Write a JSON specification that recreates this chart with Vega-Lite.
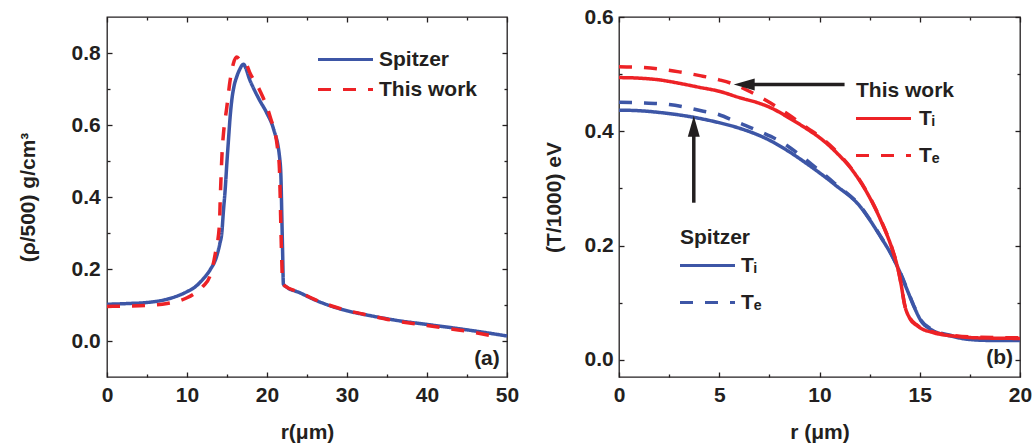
{
  "$schema": "https://vega.github.io/schema/vega-lite/v6.json",
  "padding": {"left": 16, "top": 5, "right": 0, "bottom": 0},
  "spacing": 22,
  "datasets": {
    "rho": [
      {"r": 0, "rho": 0.102, "model": "Spitzer"},
      {"r": 2.5, "rho": 0.104, "model": "Spitzer"},
      {"r": 5, "rho": 0.107, "model": "Spitzer"},
      {"r": 7.5, "rho": 0.116, "model": "Spitzer"},
      {"r": 10, "rho": 0.137, "model": "Spitzer"},
      {"r": 11, "rho": 0.150, "model": "Spitzer"},
      {"r": 12, "rho": 0.172, "model": "Spitzer"},
      {"r": 12.9, "rho": 0.198, "model": "Spitzer"},
      {"r": 13.7, "rho": 0.235, "model": "Spitzer"},
      {"r": 14.1, "rho": 0.27, "model": "Spitzer"},
      {"r": 14.35, "rho": 0.30, "model": "Spitzer"},
      {"r": 14.55, "rho": 0.36, "model": "Spitzer"},
      {"r": 14.77, "rho": 0.42, "model": "Spitzer"},
      {"r": 15.0, "rho": 0.50, "model": "Spitzer"},
      {"r": 15.18, "rho": 0.557, "model": "Spitzer"},
      {"r": 15.4, "rho": 0.625, "model": "Spitzer"},
      {"r": 15.6, "rho": 0.669, "model": "Spitzer"},
      {"r": 15.9, "rho": 0.71, "model": "Spitzer"},
      {"r": 16.2, "rho": 0.733, "model": "Spitzer"},
      {"r": 16.6, "rho": 0.755, "model": "Spitzer"},
      {"r": 17.05, "rho": 0.769, "model": "Spitzer"},
      {"r": 17.4, "rho": 0.755, "model": "Spitzer"},
      {"r": 17.8, "rho": 0.728, "model": "Spitzer"},
      {"r": 18.3, "rho": 0.703, "model": "Spitzer"},
      {"r": 19.0, "rho": 0.672, "model": "Spitzer"},
      {"r": 20.0, "rho": 0.632, "model": "Spitzer"},
      {"r": 20.8, "rho": 0.59, "model": "Spitzer"},
      {"r": 21.6, "rho": 0.505, "model": "Spitzer"},
      {"r": 21.75, "rho": 0.45, "model": "Spitzer"},
      {"r": 21.85, "rho": 0.35, "model": "Spitzer"},
      {"r": 21.95, "rho": 0.25, "model": "Spitzer"},
      {"r": 22.05, "rho": 0.158, "model": "Spitzer"},
      {"r": 22.5, "rho": 0.149, "model": "Spitzer"},
      {"r": 24, "rho": 0.135, "model": "Spitzer"},
      {"r": 26, "rho": 0.114, "model": "Spitzer"},
      {"r": 28, "rho": 0.097, "model": "Spitzer"},
      {"r": 30, "rho": 0.084, "model": "Spitzer"},
      {"r": 33, "rho": 0.070, "model": "Spitzer"},
      {"r": 36, "rho": 0.058, "model": "Spitzer"},
      {"r": 40, "rho": 0.046, "model": "Spitzer"},
      {"r": 45, "rho": 0.031, "model": "Spitzer"},
      {"r": 50, "rho": 0.014, "model": "Spitzer"},
      {"r": 0, "rho": 0.096, "model": "This work"},
      {"r": 2.5, "rho": 0.097, "model": "This work"},
      {"r": 5, "rho": 0.099, "model": "This work"},
      {"r": 7.5, "rho": 0.104, "model": "This work"},
      {"r": 10, "rho": 0.120, "model": "This work"},
      {"r": 11, "rho": 0.133, "model": "This work"},
      {"r": 12, "rho": 0.152, "model": "This work"},
      {"r": 12.9, "rho": 0.182, "model": "This work"},
      {"r": 13.52, "rho": 0.241, "model": "This work"},
      {"r": 14.06, "rho": 0.325, "model": "This work"},
      {"r": 14.15, "rho": 0.39, "model": "This work"},
      {"r": 14.27, "rho": 0.464, "model": "This work"},
      {"r": 14.4, "rho": 0.53, "model": "This work"},
      {"r": 14.56, "rho": 0.576, "model": "This work"},
      {"r": 14.98, "rho": 0.65, "model": "This work"},
      {"r": 15.39, "rho": 0.724, "model": "This work"},
      {"r": 15.8, "rho": 0.771, "model": "This work"},
      {"r": 16.2, "rho": 0.789, "model": "This work"},
      {"r": 16.7, "rho": 0.779, "model": "This work"},
      {"r": 17.26, "rho": 0.775, "model": "This work"},
      {"r": 17.9, "rho": 0.743, "model": "This work"},
      {"r": 19.1, "rho": 0.696, "model": "This work"},
      {"r": 20.4, "rho": 0.622, "model": "This work"},
      {"r": 21.3, "rho": 0.538, "model": "This work"},
      {"r": 21.55, "rho": 0.48, "model": "This work"},
      {"r": 21.65, "rho": 0.40, "model": "This work"},
      {"r": 21.75, "rho": 0.30, "model": "This work"},
      {"r": 21.85, "rho": 0.22, "model": "This work"},
      {"r": 21.95, "rho": 0.16, "model": "This work"},
      {"r": 22.3, "rho": 0.152, "model": "This work"},
      {"r": 24, "rho": 0.136, "model": "This work"},
      {"r": 26, "rho": 0.115, "model": "This work"},
      {"r": 28, "rho": 0.098, "model": "This work"},
      {"r": 30, "rho": 0.085, "model": "This work"},
      {"r": 33, "rho": 0.070, "model": "This work"},
      {"r": 36, "rho": 0.056, "model": "This work"},
      {"r": 40, "rho": 0.043, "model": "This work"},
      {"r": 45, "rho": 0.027, "model": "This work"},
      {"r": 48.5, "rho": 0.013, "model": "This work"}
    ],
    "temp": [
      {"r": 0, "T": 0.494, "model": "This work", "type": "Ti"},
      {"r": 1, "T": 0.493, "model": "This work", "type": "Ti"},
      {"r": 2, "T": 0.490, "model": "This work", "type": "Ti"},
      {"r": 3, "T": 0.484, "model": "This work", "type": "Ti"},
      {"r": 4, "T": 0.477, "model": "This work", "type": "Ti"},
      {"r": 5, "T": 0.470, "model": "This work", "type": "Ti"},
      {"r": 6, "T": 0.459, "model": "This work", "type": "Ti"},
      {"r": 7, "T": 0.449, "model": "This work", "type": "Ti"},
      {"r": 7.58, "T": 0.441, "model": "This work", "type": "Ti"},
      {"r": 8.5, "T": 0.423, "model": "This work", "type": "Ti"},
      {"r": 9.42, "T": 0.403, "model": "This work", "type": "Ti"},
      {"r": 10, "T": 0.389, "model": "This work", "type": "Ti"},
      {"r": 10.75, "T": 0.366, "model": "This work", "type": "Ti"},
      {"r": 11.74, "T": 0.327, "model": "This work", "type": "Ti"},
      {"r": 12.41, "T": 0.290, "model": "This work", "type": "Ti"},
      {"r": 13.07, "T": 0.243, "model": "This work", "type": "Ti"},
      {"r": 13.66, "T": 0.190, "model": "This work", "type": "Ti"},
      {"r": 13.9, "T": 0.161, "model": "This work", "type": "Ti"},
      {"r": 14.07, "T": 0.132, "model": "This work", "type": "Ti"},
      {"r": 14.24, "T": 0.097, "model": "This work", "type": "Ti"},
      {"r": 14.49, "T": 0.0735, "model": "This work", "type": "Ti"},
      {"r": 14.9, "T": 0.059, "model": "This work", "type": "Ti"},
      {"r": 15.74, "T": 0.047, "model": "This work", "type": "Ti"},
      {"r": 16.74, "T": 0.0415, "model": "This work", "type": "Ti"},
      {"r": 17.9, "T": 0.0385, "model": "This work", "type": "Ti"},
      {"r": 20, "T": 0.0375, "model": "This work", "type": "Ti"},
      {"r": 0, "T": 0.513, "model": "This work", "type": "Te"},
      {"r": 1, "T": 0.512, "model": "This work", "type": "Te"},
      {"r": 2, "T": 0.509, "model": "This work", "type": "Te"},
      {"r": 3, "T": 0.504, "model": "This work", "type": "Te"},
      {"r": 4.1, "T": 0.497, "model": "This work", "type": "Te"},
      {"r": 5, "T": 0.490, "model": "This work", "type": "Te"},
      {"r": 5.76, "T": 0.482, "model": "This work", "type": "Te"},
      {"r": 6.5, "T": 0.470, "model": "This work", "type": "Te"},
      {"r": 7.58, "T": 0.449, "model": "This work", "type": "Te"},
      {"r": 8.5, "T": 0.428, "model": "This work", "type": "Te"},
      {"r": 9.42, "T": 0.405, "model": "This work", "type": "Te"},
      {"r": 10, "T": 0.391, "model": "This work", "type": "Te"},
      {"r": 10.75, "T": 0.368, "model": "This work", "type": "Te"},
      {"r": 11.74, "T": 0.328, "model": "This work", "type": "Te"},
      {"r": 12.41, "T": 0.291, "model": "This work", "type": "Te"},
      {"r": 13.07, "T": 0.244, "model": "This work", "type": "Te"},
      {"r": 13.66, "T": 0.191, "model": "This work", "type": "Te"},
      {"r": 13.9, "T": 0.162, "model": "This work", "type": "Te"},
      {"r": 14.07, "T": 0.133, "model": "This work", "type": "Te"},
      {"r": 14.24, "T": 0.098, "model": "This work", "type": "Te"},
      {"r": 14.49, "T": 0.0745, "model": "This work", "type": "Te"},
      {"r": 14.9, "T": 0.060, "model": "This work", "type": "Te"},
      {"r": 15.74, "T": 0.048, "model": "This work", "type": "Te"},
      {"r": 16.74, "T": 0.0425, "model": "This work", "type": "Te"},
      {"r": 17.9, "T": 0.0395, "model": "This work", "type": "Te"},
      {"r": 20, "T": 0.0385, "model": "This work", "type": "Te"},
      {"r": 0, "T": 0.437, "model": "Spitzer", "type": "Ti"},
      {"r": 1, "T": 0.436, "model": "Spitzer", "type": "Ti"},
      {"r": 2, "T": 0.433, "model": "Spitzer", "type": "Ti"},
      {"r": 3.8, "T": 0.424, "model": "Spitzer", "type": "Ti"},
      {"r": 5, "T": 0.415, "model": "Spitzer", "type": "Ti"},
      {"r": 5.76, "T": 0.408, "model": "Spitzer", "type": "Ti"},
      {"r": 7.58, "T": 0.383, "model": "Spitzer", "type": "Ti"},
      {"r": 8.5, "T": 0.364, "model": "Spitzer", "type": "Ti"},
      {"r": 9.42, "T": 0.342, "model": "Spitzer", "type": "Ti"},
      {"r": 10.75, "T": 0.307, "model": "Spitzer", "type": "Ti"},
      {"r": 12.08, "T": 0.266, "model": "Spitzer", "type": "Ti"},
      {"r": 12.41, "T": 0.250, "model": "Spitzer", "type": "Ti"},
      {"r": 13.07, "T": 0.214, "model": "Spitzer", "type": "Ti"},
      {"r": 13.57, "T": 0.185, "model": "Spitzer", "type": "Ti"},
      {"r": 13.99, "T": 0.155, "model": "Spitzer", "type": "Ti"},
      {"r": 14.4, "T": 0.120, "model": "Spitzer", "type": "Ti"},
      {"r": 14.74, "T": 0.091, "model": "Spitzer", "type": "Ti"},
      {"r": 15.07, "T": 0.068, "model": "Spitzer", "type": "Ti"},
      {"r": 15.57, "T": 0.053, "model": "Spitzer", "type": "Ti"},
      {"r": 16.57, "T": 0.0415, "model": "Spitzer", "type": "Ti"},
      {"r": 17.4, "T": 0.036, "model": "Spitzer", "type": "Ti"},
      {"r": 18.5, "T": 0.034, "model": "Spitzer", "type": "Ti"},
      {"r": 20, "T": 0.034, "model": "Spitzer", "type": "Ti"},
      {"r": 0, "T": 0.451, "model": "Spitzer", "type": "Te"},
      {"r": 1, "T": 0.450, "model": "Spitzer", "type": "Te"},
      {"r": 2.5, "T": 0.447, "model": "Spitzer", "type": "Te"},
      {"r": 4.1, "T": 0.436, "model": "Spitzer", "type": "Te"},
      {"r": 5, "T": 0.429, "model": "Spitzer", "type": "Te"},
      {"r": 5.76, "T": 0.418, "model": "Spitzer", "type": "Te"},
      {"r": 7, "T": 0.400, "model": "Spitzer", "type": "Te"},
      {"r": 8.25, "T": 0.378, "model": "Spitzer", "type": "Te"},
      {"r": 9, "T": 0.359, "model": "Spitzer", "type": "Te"},
      {"r": 9.58, "T": 0.343, "model": "Spitzer", "type": "Te"},
      {"r": 10.75, "T": 0.309, "model": "Spitzer", "type": "Te"},
      {"r": 12.08, "T": 0.267, "model": "Spitzer", "type": "Te"},
      {"r": 12.41, "T": 0.251, "model": "Spitzer", "type": "Te"},
      {"r": 13.07, "T": 0.215, "model": "Spitzer", "type": "Te"},
      {"r": 13.57, "T": 0.186, "model": "Spitzer", "type": "Te"},
      {"r": 13.99, "T": 0.156, "model": "Spitzer", "type": "Te"},
      {"r": 14.4, "T": 0.121, "model": "Spitzer", "type": "Te"},
      {"r": 14.74, "T": 0.092, "model": "Spitzer", "type": "Te"},
      {"r": 15.07, "T": 0.069, "model": "Spitzer", "type": "Te"},
      {"r": 15.57, "T": 0.054, "model": "Spitzer", "type": "Te"},
      {"r": 16.57, "T": 0.0425, "model": "Spitzer", "type": "Te"},
      {"r": 17.4, "T": 0.037, "model": "Spitzer", "type": "Te"},
      {"r": 18.5, "T": 0.035, "model": "Spitzer", "type": "Te"},
      {"r": 20, "T": 0.035, "model": "Spitzer", "type": "Te"}
    ],
    "arrows": [
      {"r1": 11.25, "T1": 0.482, "r2": 6.5, "T2": 0.482, "tipR": 5.72, "tipT": 0.482, "dir": "left"},
      {"r1": 3.73, "T1": 0.275, "r2": 3.73, "T2": 0.40, "tipR": 3.73, "tipT": 0.427, "dir": "up"}
    ]
  },
  "hconcat": [
    {
      "width": 400,
      "height": 360,
      "layer": [
        {
          "data": {"name": "rho"},
          "mark": {"type": "line", "strokeWidth": 3.5, "interpolate": "monotone"},
          "encoding": {
            "x": {"field": "r", "type": "quantitative", "scale": {"domain": [0, 50], "nice": false, "zero": false},
                  "axis": {"orient": "bottom", "values": [0, 10, 20, 30, 40, 50], "title": "r(μm)", "titlePadding": 16, "labelPadding": 12.5}},
            "y": {"field": "rho", "type": "quantitative", "scale": {"domain": [-0.1, 0.9], "nice": false, "zero": false},
                  "axis": {"orient": "left", "values": [0, 0.2, 0.4, 0.6, 0.8], "format": ".1f", "title": "(ρ/500) g/cm³", "titlePadding": 33, "labelPadding": 11.7}},
            "color": {"field": "model", "type": "nominal", "scale": {"domain": ["Spitzer", "This work"], "range": ["#3d56a6", "#ed2226"]},
                      "legend": {"orient": "none", "legendX": 211, "legendY": 32, "title": null, "rowPadding": 8, "labelOffset": 23}},
            "strokeDash": {"field": "model", "type": "nominal", "scale": {"domain": ["Spitzer", "This work"], "range": [[1, 0], [13, 12]]},
                      "legend": {"orient": "none", "legendX": 211, "legendY": 32, "title": null, "rowPadding": 8, "labelOffset": 23}}
          }
        },
        {
          "data": {"values": [{}]},
          "mark": {"type": "text", "align": "right", "baseline": "middle", "fontSize": 21, "fontWeight": "bold", "font": "Liberation Sans", "color": "#231f20"},
          "encoding": {
            "x": {"datum": 49.1, "type": "quantitative", "axis": null},
            "y": {"datum": -0.05, "type": "quantitative", "axis": null},
            "text": {"value": "(a)"}
          }
        },
        {
          "data": {"name": "rho"},
          "mark": {"type": "point", "opacity": 0},
          "encoding": {
            "x": {"field": "r", "type": "quantitative", "axis": {"orient": "top", "values": [0, 10, 20, 30, 40, 50], "labels": false, "title": null}},
            "y": {"field": "rho", "type": "quantitative", "axis": {"orient": "right", "values": [0, 0.2, 0.4, 0.6, 0.8], "labels": false, "title": null}}
          }
        },
        {
          "data": {"name": "rho"},
          "mark": {"type": "point", "opacity": 0},
          "encoding": {
            "x": {"field": "r", "type": "quantitative", "axis": {"orient": "bottom", "values": [5, 15, 25, 35, 45], "labels": false, "title": null, "tickSize": -3}},
            "y": {"field": "rho", "type": "quantitative", "axis": {"orient": "left", "values": [0.1, 0.3, 0.5, 0.7], "labels": false, "title": null, "tickSize": -3}}
          }
        },
        {
          "data": {"name": "rho"},
          "mark": {"type": "point", "opacity": 0},
          "encoding": {
            "x": {"field": "r", "type": "quantitative", "axis": {"orient": "top", "values": [5, 15, 25, 35, 45], "labels": false, "title": null, "tickSize": -3}},
            "y": {"field": "rho", "type": "quantitative", "axis": {"orient": "right", "values": [0.1, 0.3, 0.5, 0.7], "labels": false, "title": null, "tickSize": -3}}
          }
        }
      ],
      "resolve": {"axis": {"x": "independent", "y": "independent"}}
    },
    {
      "width": 401,
      "height": 360,
      "layer": [
        {
          "data": {"name": "temp"},
          "transform": [{"filter": "datum.model == 'Spitzer'"}],
          "mark": {"type": "line", "strokeWidth": 3.5, "color": "#3d56a6", "interpolate": "monotone"},
          "encoding": {
            "x": {"field": "r", "type": "quantitative", "scale": {"domain": [0, 20], "nice": false, "zero": false},
                  "axis": {"orient": "bottom", "values": [0, 5, 10, 15, 20], "title": "r (μm)", "titlePadding": 16, "labelPadding": 12.5}},
            "y": {"field": "T", "type": "quantitative", "scale": {"domain": [-0.03, 0.6], "nice": false, "zero": false},
                  "axis": {"orient": "left", "values": [0, 0.2, 0.4, 0.6], "format": ".1f", "title": "(T/1000) eV", "titlePadding": 20, "labelPadding": 10.7}},
            "strokeDash": {"field": "type", "type": "nominal", "scale": {"domain": ["Ti", "Te"], "range": [[1, 0], [13, 12]]},
                      "legend": {"orient": "none", "legendX": 61, "legendY": 210, "title": "Spitzer", "symbolStrokeColor": "#3d56a6", "rowPadding": 15, "labelOffset": 23, "labelExpr": "datum.label == 'Ti' ? 'Tᵢ' : 'Tₑ'"}}
          }
        },
        {
          "data": {"name": "temp"},
          "transform": [{"filter": "datum.model == 'This work'"}],
          "mark": {"type": "line", "strokeWidth": 3.5, "color": "#ed2226", "interpolate": "monotone"},
          "encoding": {
            "x": {"field": "r", "type": "quantitative", "axis": null},
            "y": {"field": "T", "type": "quantitative", "axis": null},
            "strokeDash": {"field": "type", "type": "nominal", "scale": {"domain": ["Ti", "Te"], "range": [[1, 0], [13, 12]]},
                      "legend": {"orient": "none", "legendX": 237, "legendY": 63, "title": "This work", "symbolStrokeColor": "#ed2226", "rowPadding": 15, "labelOffset": 25, "labelExpr": "datum.label == 'Ti' ? 'Tᵢ' : 'Tₑ'"}}
          }
        },
        {
          "data": {"name": "arrows"},
          "mark": {"type": "rule", "strokeWidth": 3.5, "color": "#231f20"},
          "encoding": {
            "x": {"field": "r1", "type": "quantitative", "axis": null},
            "y": {"field": "T1", "type": "quantitative", "axis": null},
            "x2": {"field": "r2"},
            "y2": {"field": "T2"}
          }
        },
        {
          "data": {"name": "arrows"},
          "mark": {"type": "point", "filled": true, "opacity": 1, "size": 441, "color": "#231f20", "strokeWidth": 0},
          "encoding": {
            "x": {"field": "tipR", "type": "quantitative", "axis": null},
            "y": {"field": "tipT", "type": "quantitative", "axis": null},
            "shape": {"field": "dir", "type": "nominal", "scale": {"domain": ["left", "up"], "range": ["M0,0L2,-0.57L2,0.57Z", "M0,0L-0.57,2L0.57,2Z"]}, "legend": null}
          }
        },
        {
          "data": {"values": [{}]},
          "mark": {"type": "text", "align": "right", "baseline": "middle", "fontSize": 21, "fontWeight": "bold", "font": "Liberation Sans", "color": "#231f20"},
          "encoding": {
            "x": {"datum": 19.65, "type": "quantitative", "axis": null},
            "y": {"datum": 0.003, "type": "quantitative", "axis": null},
            "text": {"value": "(b)"}
          }
        },
        {
          "data": {"name": "temp"},
          "mark": {"type": "point", "opacity": 0},
          "encoding": {
            "x": {"field": "r", "type": "quantitative", "axis": {"orient": "top", "values": [0, 5, 10, 15, 20], "labels": false, "title": null}},
            "y": {"field": "T", "type": "quantitative", "axis": {"orient": "right", "values": [0, 0.2, 0.4, 0.6], "labels": false, "title": null}}
          }
        },
        {
          "data": {"name": "temp"},
          "mark": {"type": "point", "opacity": 0},
          "encoding": {
            "x": {"field": "r", "type": "quantitative", "axis": {"orient": "bottom", "values": [2.5, 7.5, 12.5, 17.5], "labels": false, "title": null, "tickSize": -3}},
            "y": {"field": "T", "type": "quantitative", "axis": {"orient": "left", "values": [0.1, 0.3, 0.5], "labels": false, "title": null, "tickSize": -3}}
          }
        },
        {
          "data": {"name": "temp"},
          "mark": {"type": "point", "opacity": 0},
          "encoding": {
            "x": {"field": "r", "type": "quantitative", "axis": {"orient": "top", "values": [2.5, 7.5, 12.5, 17.5], "labels": false, "title": null, "tickSize": -3}},
            "y": {"field": "T", "type": "quantitative", "axis": {"orient": "right", "values": [0.1, 0.3, 0.5], "labels": false, "title": null, "tickSize": -3}}
          }
        }
      ],
      "resolve": {"axis": {"x": "independent", "y": "independent"}, "scale": {"strokeDash": "independent"}, "legend": {"strokeDash": "independent"}}
    }
  ],
  "config": {
    "font": "Liberation Sans",
    "view": {"stroke": "#231f20", "strokeWidth": 1.3},
    "axis": {
      "domain": false, "grid": false,
      "labelFont": "Liberation Sans", "labelFontWeight": "bold", "labelFontSize": 21, "labelColor": "#231f20",
      "titleFont": "Liberation Sans", "titleFontWeight": "bold", "titleFontSize": 21, "titleColor": "#231f20",
      "tickColor": "#231f20", "tickWidth": 1.3, "tickSize": -5,
      "labelFlush": false, "labelOverlap": false
    },
    "legend": {
      "padding": 0,
      "symbolType": "M-5,0H5", "symbolSize": 121, "symbolStrokeWidth": 3, "symbolOffset": 17, "labelOffset": 24,
      "labelFont": "Liberation Sans", "labelFontWeight": "bold", "labelFontSize": 21, "labelColor": "#231f20",
      "titleFont": "Liberation Sans", "titleFontWeight": "bold", "titleFontSize": 21, "titleColor": "#231f20", "titlePadding": 7,
      "symbolLimit": 0
    }
  }
}
